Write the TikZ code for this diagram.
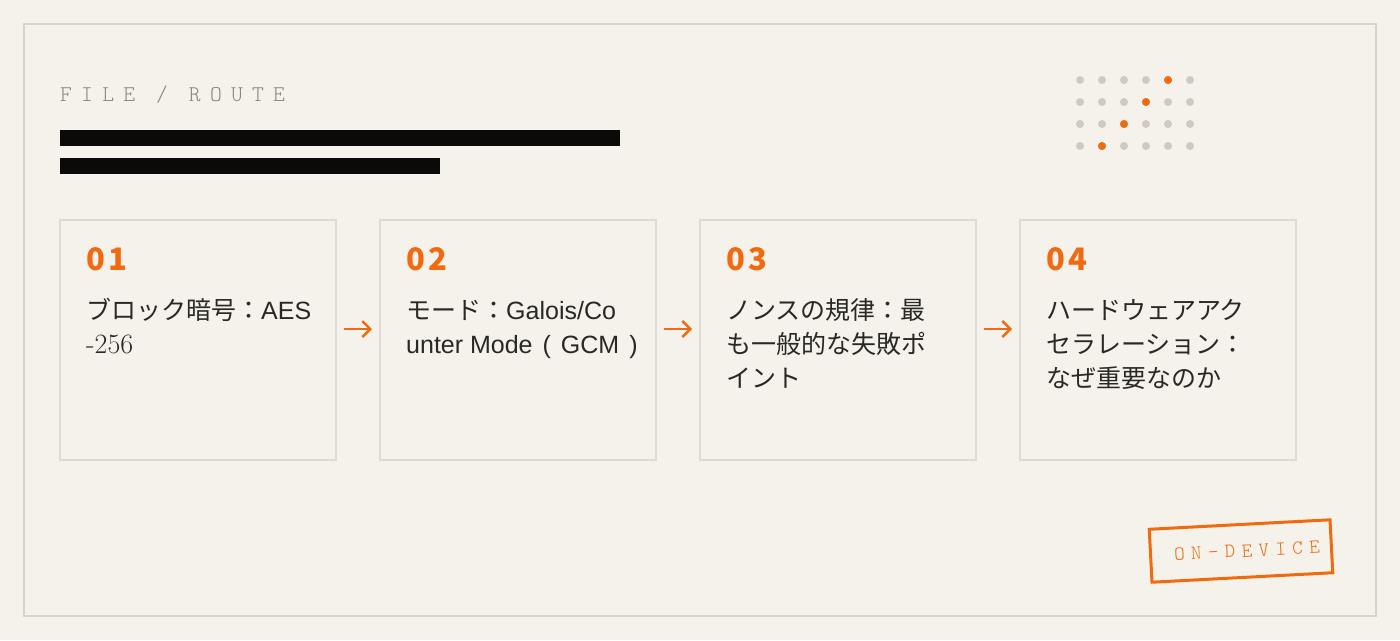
\documentclass[tikz,border=0pt]{standalone}
\usepackage{fontspec}
\usetikzlibrary{arrows.meta,positioning,calc}
\newfontfamily\jpfont{Noto Sans CJK JP}
\newfontfamily\numfont[LetterSpace=10]{Noto Sans CJK JP}
\newfontfamily\arialfont{Liberation Sans}
\newfontfamily\monofont[LetterSpace=41]{Latin Modern Mono Light}
\newfontfamily\stampfont[LetterSpace=32]{Latin Modern Mono Light}
\definecolor{paper}{HTML}{F5F2EB}
\definecolor{frameline}{HTML}{D7D4CD}
\definecolor{boxline}{HTML}{DEDBD4}
\definecolor{accent}{HTML}{F26A10}
\definecolor{ink}{HTML}{0B0A08}
\definecolor{bodytext}{HTML}{2A2825}
\definecolor{labelgray}{HTML}{8C877F}
\definecolor{dotgray}{HTML}{CDCAC4}
\tikzset{
  stepbox/.style={draw=boxline,line width=1.2pt,minimum width=276pt,minimum height=240pt,inner sep=0pt,outer sep=0pt},
  stepnum/.style={anchor=base west,inner sep=0pt,text=accent,font=\numfont\bfseries\fontsize{31}{31}\selectfont},
  steptext/.style={anchor=north west,inner sep=0pt,align=left,text=bodytext,font=\jpfont\fontsize{25}{34}\selectfont},
  flow/.style={draw=accent,line width=2.4pt,-{Straight Barb[length=8pt,width=16pt]},shorten <=8pt,shorten >=8pt},
  stamp/.style={draw=accent,line width=3pt,minimum width=181pt,minimum height=53pt,inner sep=0pt,text=accent,font=\stampfont\fontsize{20}{20}\selectfont}
}
\newcommand{\topstrut}{\rule{0pt}{24pt}}
\begin{document}
\begin{tikzpicture}[x=1pt,y=-1pt]
\fill[paper] (0,0) rectangle (1400,640);
\useasboundingbox (0,0) rectangle (1400,640);
\draw[frameline,line width=1.5pt] (24,24) rectangle (1376,616);
% heading
\node[anchor=base west,inner sep=0pt,text=labelgray,font=\monofont\fontsize{22.5}{22.5}\selectfont] (L) at (60,101) {FILE / ROUTE};
\fill[ink] (60,130) rectangle (620,146);
\fill[ink] (60,158) rectangle (440,174);
% dot grid
\coordinate (D) at (1080,80);
\foreach \i in {0,...,5}
  \foreach \j in {0,...,3}
    \fill[dotgray] ($(D)+(22*\i,22*\j)$) circle (4pt);
\foreach \i/\j in {4/0,3/1,2/2,1/3}
  \fill[accent] ($(D)+(22*\i,22*\j)$) circle (4pt);
% steps
\node[stepbox,anchor=north west] (S1) at (60,220) {};
\node[stepbox,right=44pt of S1] (S2) {};
\node[stepbox,right=44pt of S2] (S3) {};
\node[stepbox,right=44pt of S3] (S4) {};
\node[stepnum] (N1) at ([xshift=26pt,yshift=-50pt]S1.north west) {01};
\node[stepnum] (N2) at ([xshift=26pt,yshift=-50pt]S2.north west) {02};
\node[stepnum] (N3) at ([xshift=26pt,yshift=-50pt]S3.north west) {03};
\node[stepnum] (N4) at ([xshift=26pt,yshift=-50pt]S4.north west) {04};
\node[steptext] (T1) at ([xshift=26pt,yshift=-75pt]S1.north west) {\topstrut ブロック暗号：{\arialfont AES}\\{\rmfamily\fontsize{28}{34}\selectfont -256}};
\node[steptext] (T2) at ([xshift=26pt,yshift=-75pt]S2.north west) {\topstrut モード：{\arialfont Galois/Co}\\{\arialfont unter Mode\hspace{10pt}(\hspace{10pt}GCM\hspace{10pt})}};
\node[steptext] (T3) at ([xshift=26pt,yshift=-75pt]S3.north west) {\topstrut ノンスの規律：最\\も一般的な失敗ポ\\イント};
\node[steptext] (T4) at ([xshift=26pt,yshift=-75pt]S4.north west) {\topstrut ハードウェアアク\\セラレーション：\\なぜ重要なのか};
\draw[flow] ([yshift=11pt]S1.east) -- ([yshift=11pt]S2.west);
\draw[flow] ([yshift=11pt]S2.east) -- ([yshift=11pt]S3.west);
\draw[flow] ([yshift=11pt]S3.east) -- ([yshift=11pt]S4.west);
% stamp
\node[stamp,rotate=3] (ST) at (1241,551) {\hspace*{12pt}ON-DEVICE};
\end{tikzpicture}
\end{document}
